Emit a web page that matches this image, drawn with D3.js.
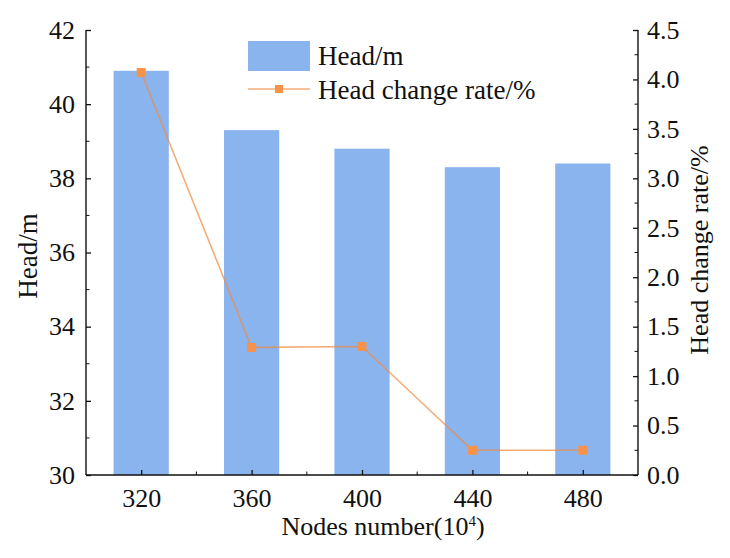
<!DOCTYPE html>
<html>
<head>
<meta charset="utf-8">
<script src="https://cdn.jsdelivr.net/npm/d3@7"></script>
<style>
  body { margin: 0; background: #fff; }
  svg text { font-family: "Liberation Serif", "Times New Roman", serif; fill: #111; }
</style>
</head>
<body>
<svg width="730" height="558"></svg>
<script>
// data
const nodes = [320, 360, 400, 440, 480];
const head = [40.9, 39.3, 38.8, 38.3, 38.4];
const changeRate = [4.07, 1.29, 1.30, 0.25, 0.25];
const leftTicks = [30, 32, 34, 36, 38, 40, 42];
const rightTicks = [0, 0.5, 1, 1.5, 2, 2.5, 3, 3.5, 4, 4.5];

const svg = d3.select('svg');

// plot box
let mLeft = 86, mRight = 638, mTop = 30, mBottom = 475;

const x = d3.scaleLinear().domain([300, 500]).range([mLeft, mRight]);
const yL = d3.scaleLinear().domain([30, 42]).range([mBottom, mTop]);
const yR = d3.scaleLinear().domain([0, 4.5]).range([mBottom, mTop]);

const barColor = '#8ab4ee';
const lineColor = '#f08a40';
const markColor = '#f7924a';

// bars, 20 units wide
svg.append('g').selectAll('rect').data(nodes).enter().append('rect')
    .attr('x', d => x(d - 10))
    .attr('width', d => x(d + 10) - x(d - 10))
    .attr('y', (d, i) => yL(head[i]))
    .attr('height', (d, i) => yL(30) - yL(head[i]))
    .attr('fill', barColor);

// change rate line + square markers
const line = d3.line().x((d, i) => x(nodes[i])).y(d => yR(d));
svg.append('path')
    .attr('d', line(changeRate))
    .attr('fill', 'none')
    .attr('stroke', lineColor)
    .attr('stroke-opacity', 0.7)
    .attr('stroke-width', 1.6);

svg.append('g').selectAll('rect').data(changeRate).enter().append('rect')
    .attr('x', (d, i) => x(nodes[i]) - 4.5)
    .attr('y', d => yR(d) - 4.5)
    .attr('width', 9).attr('height', 9)
    .attr('fill', markColor);

// axes, ticks point inward
const tickFont = 26;

const xAxis = svg.append('g').attr('transform', `translate(0,${mBottom})`)
    .call(d3.axisTop(x).tickValues(nodes).tickSize(5).tickFormat(d3.format('d')));
xAxis.selectAll('text').attr('y', 32).attr('dy', 0);
// minor x ticks
xAxis.selectAll('.minor').data([340, 380, 420, 460]).enter().append('line')
    .attr('class', 'minor')
    .attr('x1', d => x(d)).attr('x2', d => x(d))
    .attr('y1', 0).attr('y2', -3.5).attr('stroke', '#111');

const lAxis = svg.append('g').attr('transform', `translate(${mLeft},0)`)
    .call(d3.axisRight(yL).tickValues(leftTicks).tickSize(5).tickFormat(d3.format('d')));
lAxis.selectAll('text').attr('x', -11).attr('text-anchor', 'end');
lAxis.selectAll('.minor').data([31, 33, 35, 37, 39, 41]).enter().append('line')
    .attr('class', 'minor')
    .attr('y1', d => yL(d)).attr('y2', d => yL(d))
    .attr('x1', 0).attr('x2', 3.5).attr('stroke', '#111');

const rAxis = svg.append('g').attr('transform', `translate(${mRight},0)`)
    .call(d3.axisLeft(yR).tickValues(rightTicks).tickSize(5).tickFormat(d3.format('.1f')));
rAxis.selectAll('text').attr('x', 9).attr('text-anchor', 'start');
rAxis.selectAll('.minor').data(d3.range(0.25, 4.5, 0.5)).enter().append('line')
    .attr('class', 'minor')
    .attr('y1', d => yR(d)).attr('y2', d => yR(d))
    .attr('x1', 0).attr('x2', -3.5).attr('stroke', '#111');

// drop the axis' own sans-serif font so the page css applies
[xAxis, lAxis, rAxis].forEach(a => {
    a.attr('font-family', null).attr('font-size', null);
    a.selectAll('text').attr('fill', null).style('font-size', tickFont + 'px');
});

svg.selectAll('.domain').attr('stroke', '#111').attr('stroke-width', 1.4);
svg.selectAll('.tick line').attr('stroke', '#111').attr('stroke-width', 1.3);
// plain axis lines without end caps
lAxis.select('.domain').attr('d', `M0,${mTop}V${mBottom}`);
rAxis.select('.domain').attr('d', `M0,${mTop}V${mBottom}`);
xAxis.select('.domain').attr('d', `M${mLeft},0H${mRight}`);

// titles
svg.append('text')
    .attr('transform', `translate(37,256) rotate(-90)`)
    .attr('text-anchor', 'middle')
    .style('font-size', '27px')
    .text('Head/m');

svg.append('text')
    .attr('transform', `translate(708,250) rotate(-90)`)
    .attr('text-anchor', 'middle')
    .style('font-size', '26px')
    .text('Head change rate/%');

const xt = svg.append('text')
    .attr('x', 383).attr('y', 535)
    .attr('text-anchor', 'middle')
    .style('font-size', '26px');
xt.append('tspan').text('Nodes number(10');
xt.append('tspan').attr('dy', -9).style('font-size', '15px').text('4');
xt.append('tspan').attr('dy', 9).text(')');

// legend
const lg = svg.append('g');
lg.append('rect').attr('x', 248).attr('y', 41).attr('width', 62).attr('height', 30).attr('fill', barColor);
lg.append('text').attr('x', 318).attr('y', 65).style('font-size', '27px').text('Head/m');
lg.append('line').attr('x1', 248).attr('x2', 310).attr('y1', 89).attr('y2', 89)
    .attr('stroke', lineColor).attr('stroke-opacity', 0.7).attr('stroke-width', 1.6);
lg.append('rect').attr('x', 275).attr('y', 85).attr('width', 8).attr('height', 8).attr('fill', markColor);
lg.append('text').attr('x', 318).attr('y', 99).style('font-size', '27px').text('Head change rate/%');
</script>
</body>
</html>
